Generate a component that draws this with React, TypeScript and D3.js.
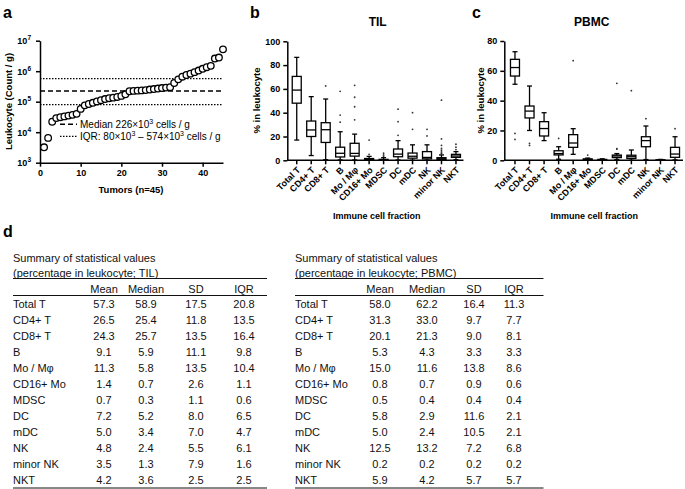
import React, { useEffect, useRef } from 'react';
import * as d3 from 'd3';

const FONT = '"Liberation Sans", Arial, Helvetica, sans-serif';
const W = 685;
const H = 489;

// panel a: leukocyte count per gram, sorted tumors
const leukocytePerGram = [
  3.2e3, 6.5e3, 2.2e4, 2.9e4, 3.1e4, 3.3e4, 3.5e4, 3.7e4, 4.0e4, 5.8e4,
  7.6e4, 8.4e4, 9.2e4, 1.02e5, 1.12e5, 1.22e5, 1.3e5, 1.36e5, 1.43e5, 1.55e5,
  1.75e5, 2.2e5, 2.26e5, 2.3e5, 2.35e5, 2.4e5, 2.5e5, 2.6e5, 2.7e5, 2.8e5,
  2.9e5, 3.0e5, 4.1e5, 5.4e5, 6.6e5, 7.5e5, 8.3e5, 9.3e5, 1.05e6, 1.2e6,
  1.35e6, 1.5e6, 2.6e6, 2.8e6, 5.2e6,
];
const leukoMedian = 226e3;
const leukoIQR = [80e3, 574e3];
const logTicks = [1e3, 1e4, 1e5, 1e6, 1e7];
const tumorTicks = [0, 10, 20, 30, 40];

// panels b/c: immune cell fractions
const cellTypes = ['Total T', 'CD4+ T', 'CD8+ T', 'B', 'Mo / M\u03c6', 'CD16+ Mo', 'MDSC', 'DC', 'mDC', 'NK', 'minor NK', 'NKT'];

// [min, q1, median, q3, max]
const tilBox = [
  [17, 48, 59, 70.5, 86.5],
  [4, 20, 25.5, 33, 53.5],
  [0.5, 15, 25.7, 31.6, 51.5],
  [0.3, 2.8, 5.9, 11, 24],
  [0.3, 3.5, 5.8, 14.3, 22],
  [0, 0.3, 0.7, 1.5, 3.3],
  [0, 0.1, 0.3, 0.8, 2.2],
  [0.2, 3, 5.2, 9.5, 16.5],
  [0, 1.8, 3.4, 6.1, 13],
  [0, 1.2, 2.4, 7.3, 13],
  [0, 0.6, 1.3, 2.2, 4.5],
  [0.5, 2.5, 3.6, 5, 7.3],
];
const tilOutliers = [
  [], [], [62.5], [58, 38, 32], [63, 53, 45, 34], [17, 5],
  [6, 4.5, 3.5], [43, 32.5, 21], [40, 26], [26, 20.5],
  [50.5, 18, 12.5, 10, 8.5, 7, 6, 5.3], [13.5, 11, 9],
];
const pbmcBox = [
  [51, 56.5, 62.2, 67.7, 72.8],
  [20, 28.4, 33, 36.4, 49.8],
  [13.2, 16.3, 21.3, 25.9, 31.9],
  [0.7, 3.6, 4.5, 6.4, 9.1],
  [4, 8.7, 11.6, 17.2, 21.2],
  [0, 0.3, 0.7, 0.9, 1.5],
  [0, 0.2, 0.4, 0.6, 1.0],
  [0.5, 1.8, 2.9, 3.5, 4.5],
  [0, 1.2, 2.4, 3.4, 6.9],
  [0.5, 9.1, 13.2, 15.8, 23],
  [0, 0.1, 0.2, 0.3, 0.6],
  [0.3, 2, 4.2, 8.7, 15.8],
];
const pbmcOutliers = [
  [18, 14], [11.4, 10], [], [14.7], [66.8], [3.5],
  [], [51.6, 7.8, 7.5], [46.7], [27.9], [], [21.2],
];
const tilTicks = [0, 20, 40, 60, 80, 100];
const pbmcTicks = [0, 20, 40, 60, 80];

// panel d: summary tables
const statHeaders = ['Mean', 'Median', 'SD', 'IQR'];
const tilTable = [
  [57.3, 58.9, 17.5, 20.8],
  [26.5, 25.4, 11.8, 13.5],
  [24.3, 25.7, 13.5, 16.4],
  [9.1, 5.9, 11.1, 9.8],
  [11.3, 5.8, 13.5, 10.4],
  [1.4, 0.7, 2.6, 1.1],
  [0.7, 0.3, 1.1, 0.6],
  [7.2, 5.2, 8.0, 6.5],
  [5.0, 3.4, 7.0, 4.7],
  [4.8, 2.4, 5.5, 6.1],
  [3.5, 1.3, 7.9, 1.6],
  [4.2, 3.6, 2.5, 2.5],
];
const pbmcTable = [
  [58.0, 62.2, 16.4, 11.3],
  [31.3, 33.0, 9.7, 7.7],
  [20.1, 21.3, 9.0, 8.1],
  [5.3, 4.3, 3.3, 3.3],
  [15.0, 11.6, 13.8, 8.6],
  [0.8, 0.7, 0.9, 0.6],
  [0.5, 0.4, 0.4, 0.4],
  [5.8, 2.9, 11.6, 2.1],
  [5.0, 2.4, 10.5, 2.1],
  [12.5, 13.2, 7.2, 6.8],
  [0.2, 0.2, 0.2, 0.2],
  [5.9, 4.2, 5.7, 5.7],
];

type Sel = d3.Selection<SVGGElement, unknown, null, undefined>;

function styleAxis(ax: Sel) {
  ax.selectAll('path').attr('stroke', '#000').attr('stroke-width', 1.5);
  ax.selectAll('line').attr('stroke', '#000').attr('stroke-width', 1.5);
  ax.selectAll('text')
    .attr('fill', '#000')
    .attr('font-family', FONT)
    .attr('font-size', 9)
    .attr('font-weight', 'bold');
}

function drawBoxPanel(
  root: Sel,
  opts: {
    axisX: number; xRange: [number, number]; xEnd: number;
    yMax: number; yTop: number; ticks: number[];
    boxes: number[][]; outliers: number[][];
    title: string; titleX: number; yLabelX: number; xTitleX: number;
  }
) {
  const y0 = 160.3;
  const x = d3.scaleBand<string>().domain(cellTypes).range(opts.xRange);
  const y = d3.scaleLinear().domain([0, opts.yMax]).range([y0, opts.yTop]);
  const g = root.append('g');

  // y axis
  const ay = g.append('g')
    .attr('transform', `translate(${opts.axisX},0)`)
    .call(d3.axisLeft(y).tickValues(opts.ticks).tickSize(4).tickSizeOuter(0).tickPadding(3));
  styleAxis(ay);

  // x axis
  const ax = g.append('g')
    .attr('transform', `translate(0,${y0})`)
    .call(d3.axisBottom(x).tickSize(4).tickSizeOuter(0));
  ax.select('.domain').remove();
  styleAxis(ax);
  ax.selectAll('.tick text')
    .attr('text-anchor', 'end')
    .attr('dy', '0.35em')
    .attr('transform', 'translate(2,8) rotate(-45)')
    .attr('y', 0);
  g.append('line')
    .attr('x1', opts.axisX).attr('x2', opts.xEnd)
    .attr('y1', y0).attr('y2', y0)
    .attr('stroke', '#000').attr('stroke-width', 1.5);

  const bw = 9;
  const cap = 5;
  opts.boxes.forEach((b, i) => {
    const cx = (x(cellTypes[i]) as number) + x.bandwidth() / 2;
    const [mn, q1, md, q3, mx] = b;
    g.append('line').attr('x1', cx).attr('x2', cx).attr('y1', y(mn)).attr('y2', y(mx))
      .attr('stroke', '#000').attr('stroke-width', 1.3);
    [mn, mx].forEach(v => {
      g.append('line').attr('x1', cx - cap / 2).attr('x2', cx + cap / 2).attr('y1', y(v)).attr('y2', y(v))
        .attr('stroke', '#000').attr('stroke-width', 1.3);
    });
    g.append('rect')
      .attr('x', cx - bw / 2).attr('width', bw)
      .attr('y', y(q3)).attr('height', Math.max(0.01, y(q1) - y(q3)))
      .attr('fill', '#fff').attr('stroke', '#000').attr('stroke-width', 1.3);
    g.append('line').attr('x1', cx - bw / 2).attr('x2', cx + bw / 2).attr('y1', y(md)).attr('y2', y(md))
      .attr('stroke', '#000').attr('stroke-width', 1.3);
    opts.outliers[i].forEach(v => {
      g.append('circle').attr('cx', cx).attr('cy', y(v)).attr('r', 0.9).attr('fill', '#333');
    });
  });

  g.append('text')
    .attr('x', opts.titleX).attr('y', 26)
    .attr('text-anchor', 'middle')
    .attr('font-size', 12).attr('font-weight', 'bold')
    .text(opts.title);
  g.append('text')
    .attr('transform', `translate(${opts.yLabelX},100.5) rotate(-90)`)
    .attr('text-anchor', 'middle')
    .attr('font-size', 9.5).attr('font-weight', 'bold')
    .text('% in leukocyte');
  g.append('text')
    .attr('x', opts.xTitleX).attr('y', 218.5)
    .attr('text-anchor', 'middle')
    .attr('font-size', 9).attr('font-weight', 'bold')
    .text('Immune cell fraction');
}

function drawTable(
  root: Sel,
  opts: { x0: number; x1: number; cols: number[]; tissue: string; rows: number[][] }
) {
  const g = root.append('g').attr('font-size', 11).attr('fill', '#111');
  g.append('text').attr('x', opts.x0).attr('y', 262).text('Summary of statistical values');
  g.append('text').attr('x', opts.x0).attr('y', 277).text(`(percentage in leukocyte; ${opts.tissue})`);
  const rule = (yy: number) =>
    g.append('line').attr('x1', opts.x0).attr('x2', opts.x1).attr('y1', yy).attr('y2', yy)
      .attr('stroke', '#111').attr('stroke-width', 1);
  rule(278.5);
  statHeaders.forEach((h, j) => {
    g.append('text').attr('x', opts.cols[j]).attr('y', 293).attr('text-anchor', 'middle').text(h);
  });
  rule(295.5);
  opts.rows.forEach((r, i) => {
    const yy = 308 + i * 16;
    g.append('text').attr('x', opts.x0).attr('y', yy).text(cellTypes[i]);
    r.forEach((v, j) => {
      g.append('text').attr('x', opts.cols[j]).attr('y', yy).attr('text-anchor', 'middle').text(v.toFixed(1));
    });
  });
  rule(488);
}

export default function App() {
  const svgRef = useRef<SVGSVGElement>(null);

  useEffect(() => {
    if (!svgRef.current) return;
    const svg = d3.select(svgRef.current);
    svg.selectAll('*').remove();
    svg.append('rect').attr('width', W).attr('height', H).attr('fill', '#fff');
    const root = svg.append('g').attr('font-family', FONT) as unknown as Sel;

    // panel letters
    [['a', 3, 18], ['b', 250, 17.5], ['c', 472, 17.5], ['d', 3, 237]].forEach(([t, lx, ly]) => {
      root.append('text').attr('x', lx as number).attr('y', ly as number)
        .attr('font-size', 16).attr('font-weight', 'bold').text(t as string);
    });

    // ---- panel a ----
    const xA = d3.scaleLinear().domain([0, 45]).range([40, 223]);
    const yA = d3.scaleLog().domain([1e3, 1e7]).range([162.7, 40.7]);
    const ga = root.append('g');

    [leukoIQR[0], leukoIQR[1]].forEach(v => {
      ga.append('line').attr('x1', 40).attr('x2', 222).attr('y1', yA(v)).attr('y2', yA(v))
        .attr('stroke', '#000').attr('stroke-width', 1.3).attr('stroke-dasharray', '1.5,1.5');
    });
    ga.append('line').attr('x1', 40).attr('x2', 222).attr('y1', yA(leukoMedian)).attr('y2', yA(leukoMedian))
      .attr('stroke', '#000').attr('stroke-width', 1.5).attr('stroke-dasharray', '5,3');

    const ayA = ga.append('g').attr('transform', 'translate(40,0)')
      .call(d3.axisLeft(yA).tickValues(logTicks).tickSize(4).tickSizeOuter(0).tickFormat(() => ''));
    styleAxis(ayA);
    logTicks.forEach(v => {
      const t = ga.append('text').attr('x', 31).attr('y', yA(v) + 3.5)
        .attr('text-anchor', 'end').attr('font-size', 9).attr('font-weight', 'bold');
      t.append('tspan').text('10');
      t.append('tspan').attr('font-size', 6.5).attr('dy', -4).text(String(Math.round(Math.log10(v))));
    });
    const axA = ga.append('g').attr('transform', 'translate(0,162.7)')
      .call(d3.axisBottom(xA).tickValues(tumorTicks).tickSize(4).tickSizeOuter(0).tickPadding(3));
    styleAxis(axA);

    leukocytePerGram.forEach((v, i) => {
      ga.append('circle').attr('cx', xA(i + 1)).attr('cy', yA(v)).attr('r', 3.3)
        .attr('fill', '#fff').attr('stroke', '#000').attr('stroke-width', 1.3);
    });

    // legend
    ga.append('line').attr('x1', 60).attr('x2', 77).attr('y1', 124.3).attr('y2', 124.3)
      .attr('stroke', '#000').attr('stroke-width', 1.5).attr('stroke-dasharray', '5,3');
    ga.append('line').attr('x1', 60).attr('x2', 77).attr('y1', 136.3).attr('y2', 136.3)
      .attr('stroke', '#000').attr('stroke-width', 1.3).attr('stroke-dasharray', '1.5,1.5');
    const l1 = ga.append('text').attr('x', 80).attr('y', 128).attr('font-size', 10);
    l1.append('tspan').text('Median 226\u00d710');
    l1.append('tspan').attr('font-size', 7).attr('dy', -4).text('3');
    l1.append('tspan').attr('dy', 4).text(' cells / g');
    const l2 = ga.append('text').attr('x', 80).attr('y', 140).attr('font-size', 10);
    l2.append('tspan').text('IQR: 80\u00d710');
    l2.append('tspan').attr('font-size', 7).attr('dy', -4).text('3');
    l2.append('tspan').attr('dy', 4).text(' \u2013 574\u00d710');
    l2.append('tspan').attr('font-size', 7).attr('dy', -4).text('3');
    l2.append('tspan').attr('dy', 4).text(' cells / g');

    ga.append('text').attr('x', 131).attr('y', 192.5).attr('text-anchor', 'middle')
      .attr('font-size', 9.5).attr('font-weight', 'bold').text('Tumors (n=45)');
    ga.append('text').attr('transform', 'translate(11.5,101.5) rotate(-90)').attr('text-anchor', 'middle')
      .attr('font-size', 9.5).attr('font-weight', 'bold').text('Leukocyte (Count / g)');

    // ---- panels b, c ----
    drawBoxPanel(root, {
      axisX: 287.3, xRange: [289.5, 463.2], xEnd: 463.5,
      yMax: 100, yTop: 41.3, ticks: tilTicks,
      boxes: tilBox, outliers: tilOutliers,
      title: 'TIL', titleX: 377.7, yLabelX: 260, xTitleX: 376.7,
    });
    drawBoxPanel(root, {
      axisX: 504.3, xRange: [507.7, 682.3], xEnd: 683,
      yMax: 80, yTop: 41, ticks: pbmcTicks,
      boxes: pbmcBox, outliers: pbmcOutliers,
      title: 'PBMC', titleX: 591.7, yLabelX: 483.5, xTitleX: 594.3,
    });

    // ---- panel d ----
    drawTable(root, { x0: 13, x1: 267, cols: [104, 146, 196, 244], tissue: 'TIL', rows: tilTable });
    drawTable(root, { x0: 295, x1: 543.5, cols: [380, 427, 474, 514], tissue: 'PBMC', rows: pbmcTable });
  }, []);

  return (
    <div style={{ position: 'absolute', left: 0, top: 0 }}>
      <svg ref={svgRef} width={W} height={H} style={{ display: 'block' }} />
    </div>
  );
}
